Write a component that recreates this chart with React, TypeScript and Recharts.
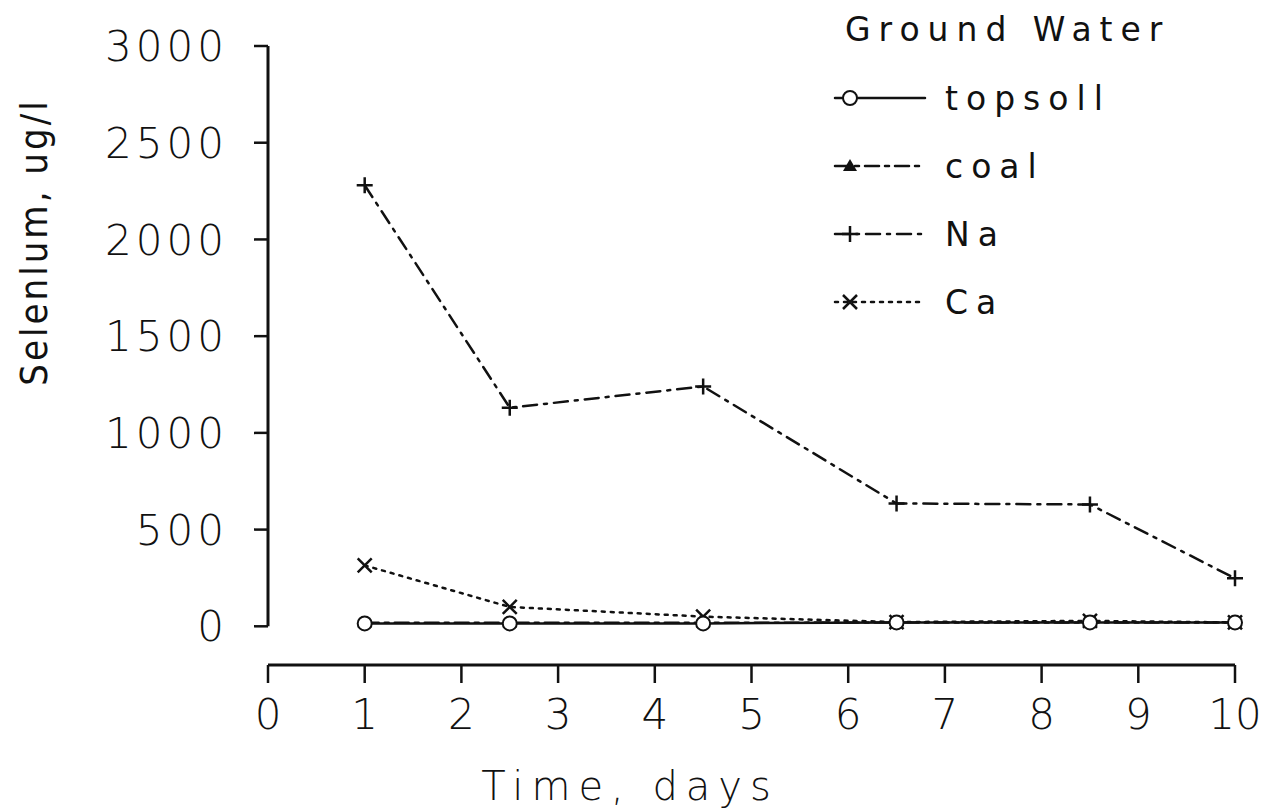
import { LineChart, Line, XAxis, YAxis, ReferenceLine, Legend } from 'recharts';

const days = [1, 2.5, 4.5, 6.5, 8.5, 10];
const topsoil = [15, 15, 15, 20, 20, 20];
const coal = [18, 18, 18, 20, 20, 20];
const na = [2280, 1130, 1240, 635, 630, 248];
const ca = [315, 100, 50, 22, 28, 20];

const xTicks = [0, 1, 2, 3, 4, 5, 6, 7, 8, 9, 10];
const yTicks = [0, 500, 1000, 1500, 2000, 2500, 3000];
const yDomain = [-200, 3000];

const data = days.map((d, i) => ({
  day: d,
  topsoil: topsoil[i],
  coal: coal[i],
  na: na[i],
  ca: ca[i],
}));

const FONT = "'DejaVu Sans', sans-serif";
const NARROW = "'DejaVu Sans Condensed', 'DejaVu Sans', sans-serif";
const INK = '#111';

// marker shapes
const Circle = ({ cx, cy }: any) => (
  <circle cx={cx} cy={cy} r={7} fill="#fff" stroke={INK} strokeWidth={2} />
);
const Triangle = ({ cx, cy }: any) => (
  <path d={`M${cx},${cy - 7} L${cx + 7},${cy + 5} L${cx - 7},${cy + 5} Z`} fill={INK} />
);
const Plus = ({ cx, cy }: any) => (
  <path d={`M${cx - 8},${cy} H${cx + 8} M${cx},${cy - 8} V${cy + 8}`} stroke={INK} strokeWidth={2.5} />
);
const Cross = ({ cx, cy }: any) => (
  <path d={`M${cx - 7},${cy - 7} L${cx + 7},${cy + 7} M${cx + 7},${cy - 7} L${cx - 7},${cy + 7}`} stroke={INK} strokeWidth={2.5} />
);

const series = [
  { key: 'topsoil', name: 'topsoll', dash: undefined, Marker: Circle },
  { key: 'coal', name: 'coal', dash: '14 6 4 6', Marker: Triangle },
  { key: 'na', name: 'Na', dash: '14 7 3 7', Marker: Plus },
  { key: 'ca', name: 'Ca', dash: '3 6', Marker: Cross },
];

const renderLegend = () => (
  <div style={{ fontFamily: FONT, fontSize: 33, color: INK, letterSpacing: 8 }}>
    <div style={{ height: 68, lineHeight: '68px', paddingLeft: 15 }}>Ground Water</div>
    {series.map((s) => (
      <div key={s.key} style={{ height: 68, display: 'flex', alignItems: 'center' }}>
        <svg width="115" height="24">
          <line x1="5" y1="12" x2="95" y2="12" stroke={INK} strokeWidth={2.5} strokeDasharray={s.dash} strokeLinecap="round" />
          <s.Marker cx={20} cy={12} />
        </svg>
        <span>{s.name}</span>
      </div>
    ))}
  </div>
);

const YTick = ({ x, y, payload }: any) => (
  <text x={x} y={y} dy="0.36em" textAnchor="end" fontFamily={FONT} fontSize={42} fontWeight={200} fill={INK} letterSpacing={4}>
    {payload.value}
  </text>
);

const XTick = ({ x, y, payload }: any) => (
  <text x={x} y={y} dy="0.72em" textAnchor="middle" fontFamily={FONT} fontSize={42} fontWeight={200} fill={INK}>
    {payload.value}
  </text>
);

const YTitle = ({ viewBox }: any) => {
  const cx = viewBox.x + 34;
  const cy = 242;
  return (
    <text
      x={cx}
      y={cy}
      transform={`rotate(-90, ${cx}, ${cy})`}
      textAnchor="middle"
      dominantBaseline="central"
      fontFamily={NARROW}
      fontSize={38}
      fill={INK}
      letterSpacing={3}
    >
      Selenlum, ug/l
    </text>
  );
};

const XTitle = () => (
  <text x={630} y={786} textAnchor="middle" dominantBaseline="central" fontFamily={FONT} fontSize={40} fontWeight={200} fill={INK} letterSpacing={8}>
    Time, days
  </text>
);

export default function App() {
  return (
    <div style={{ position: 'absolute', left: 0, top: 0, width: 1271, height: 810, background: '#fff' }}>
      <LineChart width={1271} height={810} data={data} margin={{ top: 46, right: 36, left: 0, bottom: 0 }}>
        <XAxis
          dataKey="day"
          type="number"
          domain={[0, 10]}
          ticks={xTicks}
          interval={0}
          height={145}
          tickSize={18}
          tickMargin={16}
          axisLine={{ stroke: INK, strokeWidth: 3 }}
          tickLine={{ stroke: INK, strokeWidth: 2.5 }}
          tick={<XTick />}
          label={<XTitle />}
        />
        <YAxis
          type="number"
          domain={yDomain}
          ticks={yTicks}
          interval={0}
          width={268}
          tickSize={14}
          tickMargin={26}
          axisLine={false}
          tickLine={{ stroke: INK, strokeWidth: 2.5 }}
          tick={<YTick />}
          label={<YTitle />}
        />
        <ReferenceLine segment={[{ x: 0, y: 0 }, { x: 0, y: 3000 }]} stroke={INK} strokeWidth={3} />
        {[...series].reverse().map((s) => (
          <Line
            key={s.key}
            dataKey={s.key}
            name={s.name}
            type="linear"
            stroke={INK}
            strokeWidth={2.5}
            strokeDasharray={s.dash}
            strokeLinecap="round"
            dot={<s.Marker />}
            activeDot={false}
            isAnimationActive={false}
          />
        ))}
        <Legend
          layout="vertical"
          align="center"
          verticalAlign="middle"
          content={renderLegend}
          wrapperStyle={{ top: -4, left: 830, width: 440, height: 340 }}
        />
      </LineChart>
    </div>
  );
}
